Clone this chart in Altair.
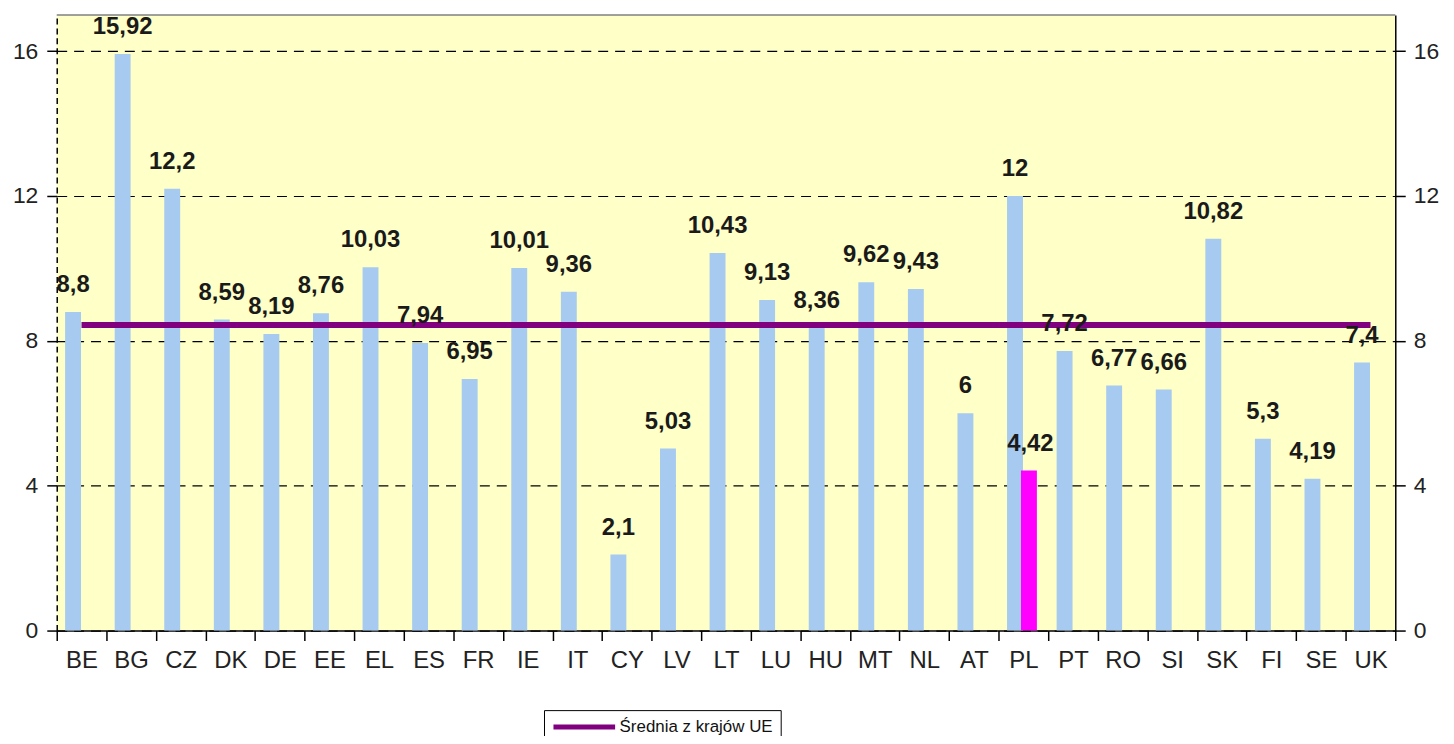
import altair as alt
import pandas as pd

countries = ["BE", "BG", "CZ", "DK", "DE", "EE", "EL", "ES", "FR", "IE", "IT", "CY", "LV", "LT",
             "LU", "HU", "MT", "NL", "AT", "PL", "PT", "RO", "SI", "SK", "FI", "SE", "UK"]
values = [8.8, 15.92, 12.2, 8.59, 8.19, 8.76, 10.03, 7.94, 6.95, 10.01, 9.36, 2.1, 5.03, 10.43,
          9.13, 8.36, 9.62, 9.43, 6, 12, 7.72, 6.77, 6.66, 10.82, 5.3, 4.19, 7.4]
pl_country = ["PL"]
pl_value = [4.42]
eu_average = 8.44
legend_label = "Średnia z krajów UE"

def fmt(v):
    return ("%g" % v).replace(".", ",")

df = pd.DataFrame({"country": countries, "value": values, "label": [fmt(v) for v in values]})
df_pl = pd.DataFrame({"country": pl_country, "value": pl_value, "label": [fmt(v) for v in pl_value]})
df_avg = pd.DataFrame({"country": countries, "value": [eu_average] * len(countries),
                       "series": [legend_label] * len(countries)})

FONT = "Liberation Sans"

x_enc = alt.X("country:N", sort=countries, title=None,
              scale=alt.Scale(paddingInner=0, paddingOuter=0),
              axis=alt.Axis(labelAngle=0, tickBand="extent", labelFontSize=24, labelFont=FONT,
                            labelColor="#222222", labelPadding=8, tickSize=10, tickColor="#000000",
                            tickWidth=1.5, domainColor="#000000", domainWidth=1.5, grid=False))
y_scale = alt.Scale(domain=[0, 17], nice=False)

left_axis = alt.Axis(values=[0, 4, 8, 12, 16], title=None, labelFontSize=23, labelFont=FONT,
                     labelColor="#222222", labelPadding=9, tickSize=10, tickColor="#000000",
                     tickWidth=1.5, domainColor="#000000", domainDash=[6, 4], domainWidth=1.5,
                     grid=True, gridColor="#000000", gridDash=[10, 7], gridWidth=1.2)
right_axis = alt.Axis(values=[0, 4, 8, 12, 16], title=None, orient="right", labelFontSize=23,
                      labelFont=FONT, labelColor="#222222", labelPadding=8, tickSize=10,
                      tickColor="#000000", tickWidth=1.5, domainColor="#000000", domainWidth=1.5,
                      grid=False)

bars = alt.Chart(df).mark_bar(width=16, xOffset=-8.5, color="#A6CAF0").encode(
    x=x_enc, y=alt.Y("value:Q", scale=y_scale, axis=left_axis))

bars_pl = alt.Chart(df_pl).mark_bar(width=16, xOffset=5.5, color="#FF00FF").encode(
    x=x_enc, y=alt.Y("value:Q", scale=y_scale, axis=None))

line = alt.Chart(df_avg).mark_line(strokeWidth=6).encode(
    x=x_enc, y=alt.Y("value:Q", scale=y_scale, axis=right_axis),
    color=alt.Color("series:N", scale=alt.Scale(domain=[legend_label], range=["#800080"]),
                    legend=alt.Legend(title=None, orient="none", legendX=490, legendY=699,
                                      strokeColor="#000000", fillColor="#FFFFFF", padding=7,
                                      symbolType="stroke", symbolSize=3844, symbolStrokeWidth=5,
                                      clipHeight=20, labelLimit=400,
                                      labelFontSize=17, labelFont=FONT, labelColor="#111111",
                                      labelOffset=2)))

top_rule = alt.Chart(df_pl).mark_rule(color="#808080", strokeWidth=1.5).encode(y=alt.value(0))

text = alt.Chart(df).mark_text(xOffset=-8.5, dy=-20, baseline="alphabetic", fontSize=24,
                               fontWeight="bold", font=FONT, color="#1a1a1a").encode(
    x=x_enc, y=alt.Y("value:Q", scale=y_scale, axis=None), text="label:N")

text_pl = alt.Chart(df_pl).mark_text(xOffset=7, dy=-20, baseline="alphabetic", fontSize=24,
                                     fontWeight="bold", font=FONT, color="#1a1a1a").encode(
    x=x_enc, y=alt.Y("value:Q", scale=y_scale, axis=None), text="label:N")

chart = alt.layer(bars, bars_pl, line, top_rule, text, text_pl).resolve_axis(
    y="independent"
).properties(
    width=1346, height=619,
    autosize=alt.AutoSizeParams(type="none"),
    padding={"left": 49, "top": 5, "right": 51, "bottom": 104},
    background="#FFFFFF",
).configure_view(fill="#FFFFC8", stroke=None)

chart.save("out.html", embed_options={"renderer": "svg", "actions": False})
